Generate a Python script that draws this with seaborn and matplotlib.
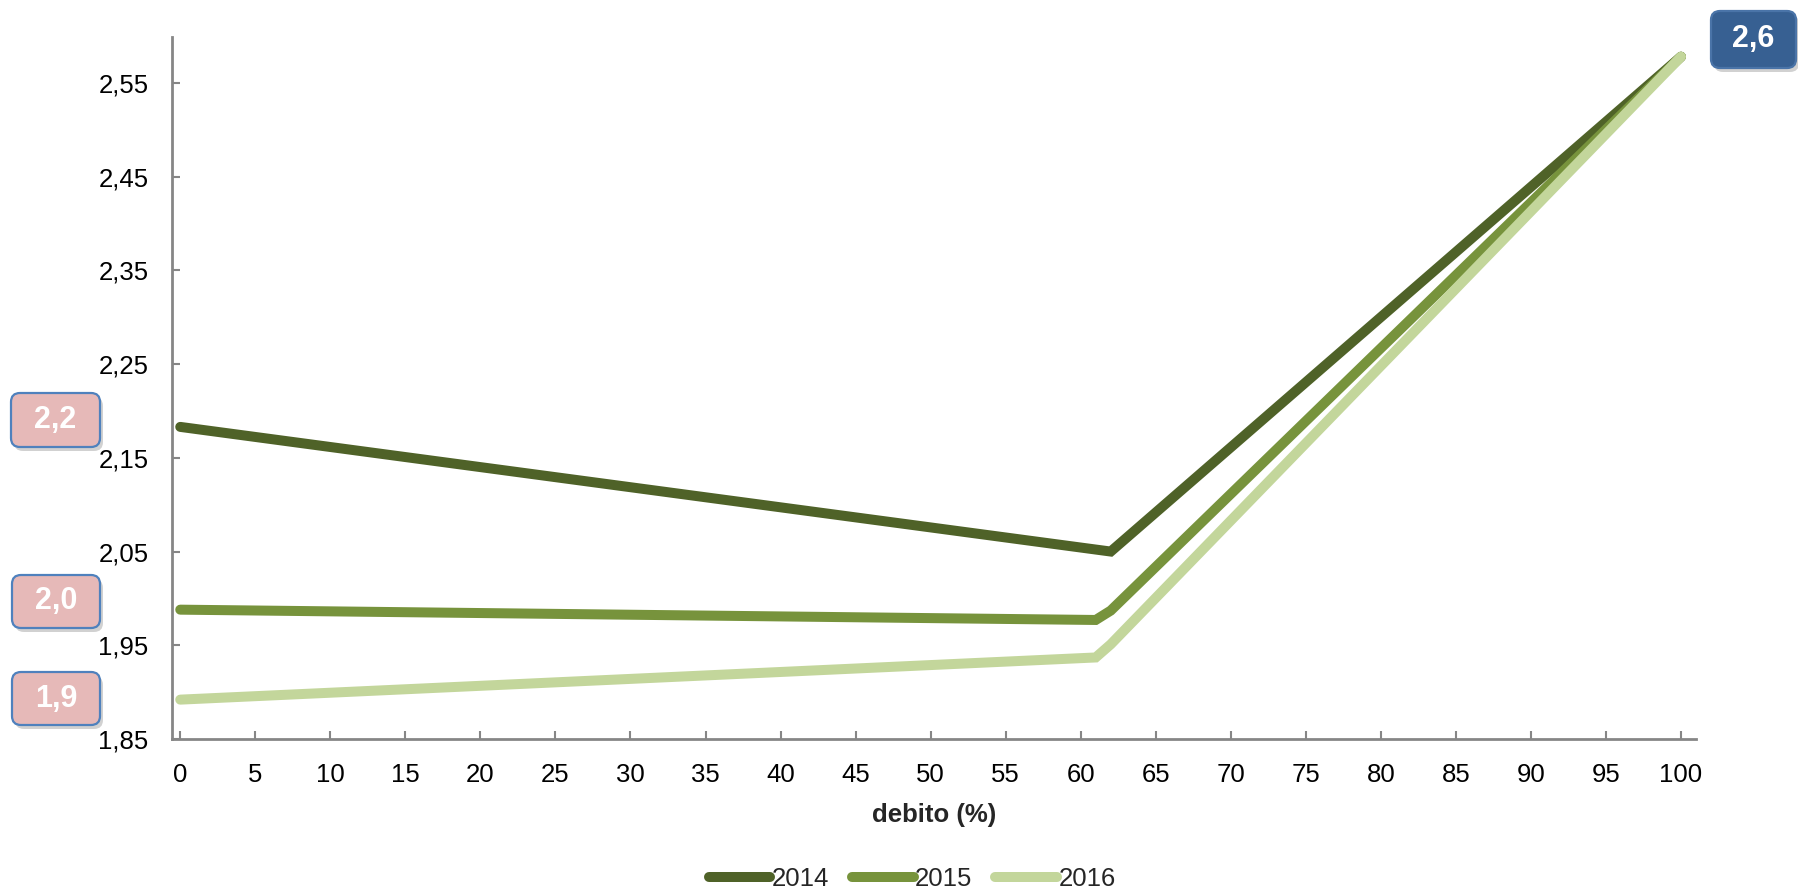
import numpy as np
import pandas as pd
import seaborn as sns
import matplotlib
matplotlib.use("Agg")
import matplotlib.pyplot as plt
from matplotlib.patches import FancyBboxPatch
from matplotlib.transforms import IdentityTransform
from matplotlib.ticker import FuncFormatter

# ---- data ----
x_2014 = [0, 62, 100]
y_2014 = [2.183, 2.050, 2.578]
x_2015 = [0, 61, 62, 100]
y_2015 = [1.988, 1.977, 1.987, 2.578]
x_2016 = [0, 61, 62, 100]
y_2016 = [1.892, 1.937, 1.951, 2.578]
years = ["2014", "2015", "2016"]
colors = ["#4F6228", "#77933C", "#C3D69B"]
x_ticks = list(range(0, 101, 5))
y_ticks = [1.85, 1.95, 2.05, 2.15, 2.25, 2.35, 2.45, 2.55]
x_label = "debito (%)"

df = pd.concat([
    pd.DataFrame({"debito": x_2014, "valore": y_2014, "anno": "2014"}),
    pd.DataFrame({"debito": x_2015, "valore": y_2015, "anno": "2015"}),
    pd.DataFrame({"debito": x_2016, "valore": y_2016, "anno": "2016"}),
])

sns.set_theme(style="white")
plt.rcParams["font.family"] = ["Liberation Sans", "DejaVu Sans"]

W, H = 1799, 891
fig = plt.figure(figsize=(W / 100, H / 100), dpi=100)
ax = fig.add_axes([172 / W, 152 / H, (1696 - 172) / W, (739 - 37) / H])

sns.lineplot(data=df, x="debito", y="valore", hue="anno", hue_order=years,
             palette=colors, linewidth=7.2, ax=ax, legend=False, sort=False)
for line in ax.get_lines():
    line.set_solid_capstyle("round")
    line.set_solid_joinstyle("miter")

ax.set_xlim(-0.55, 101)
ax.set_ylim(1.85, 2.599)
ax.set_xticks(x_ticks)
ax.set_yticks(y_ticks)
ax.yaxis.set_major_formatter(FuncFormatter(lambda v, p: f"{v:.2f}".replace(".", ",")))
ax.tick_params(axis="both", direction="in", length=6, width=1.5, color="#868686",
               labelsize=18.5, labelcolor="black", left=True, bottom=True)
ax.tick_params(axis="y", pad=17)
ax.tick_params(axis="x", pad=17)
for s in ["top", "right"]:
    ax.spines[s].set_visible(False)
for s in ["left", "bottom"]:
    ax.spines[s].set_color("#868686")
    ax.spines[s].set_linewidth(2)
ax.set_xlabel(x_label, fontsize=18.5, fontweight="bold", labelpad=12)
ax.set_ylabel("")
ax.grid(False)

# legend
handles = [plt.Line2D([], [], color=c, lw=7.2, solid_capstyle="round") for c in colors]
fig.legend(handles, years, loc="center", bbox_to_anchor=(0.507, 0.013), ncol=3,
           frameon=False, fontsize=18.5, handlelength=2.4, handletextpad=0.05,
           columnspacing=0.9)

# value boxes
def add_box(x0, ytop, x1, ybot, text, face, edge):
    shadow = FancyBboxPatch((x0 + 3, H - ybot - 4), x1 - x0, ybot - ytop,
                            boxstyle="round,pad=0,rounding_size=9",
                            transform=IdentityTransform(), facecolor="#9a9a9a",
                            edgecolor="none", alpha=0.45, zorder=5)
    fig.add_artist(shadow)
    box = FancyBboxPatch((x0, H - ybot), x1 - x0, ybot - ytop,
                         boxstyle="round,pad=0,rounding_size=9",
                         transform=IdentityTransform(), facecolor=face,
                         edgecolor=edge, linewidth=1.6, zorder=6)
    fig.add_artist(box)
    fig.text((x0 + x1) / 2 / W, 1 - (ytop + ybot) / 2 / H, text, ha="center",
             va="center", color="white", fontsize=22, fontweight="bold", zorder=7)

fmt = lambda v: f"{v:.1f}".replace(".", ",")
add_box(11, 393, 100, 447, fmt(y_2014[0]), "#E6B9B8", "#4F81BD")
add_box(12, 575, 100, 628, fmt(y_2015[0]), "#E6B9B8", "#4F81BD")
add_box(12, 672, 100, 725, fmt(y_2016[0]), "#E6B9B8", "#4F81BD")
add_box(1711, 11, 1796, 68, fmt(y_2016[-1]), "#376092", "#4A74A8")

fig.savefig("out.png", dpi=100)
